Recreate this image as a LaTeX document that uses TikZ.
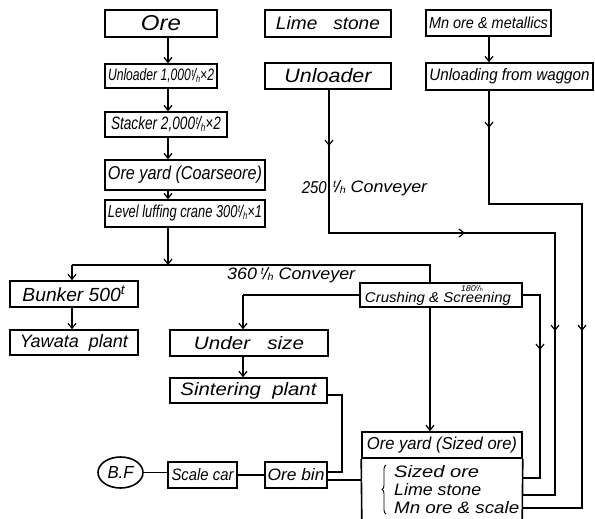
\documentclass[tikz,border=0pt]{standalone}
\usepackage{fontspec}
\usepackage{graphicx}
\setmainfont{Liberation Sans}
\usetikzlibrary{arrows.meta,shapes.geometric,calc,decorations.pathreplacing}
\newcommand{\tph}{\kern0.05em\raisebox{0.55ex}{\scalebox{0.6}{t}}\kern-0.05em/\kern-0.02em\raisebox{-0.15ex}{\scalebox{0.6}{h}}}
\newcommand{\rw}[3]{\resizebox{#1pt}{#2pt}{\itshape #3}}
\begin{document}
\begin{tikzpicture}[x=1pt,y=-1pt,
  box/.style={draw, line width=1.6pt, inner sep=0pt},
  ln/.style={line width=1.2pt},
  arr/.style={ln, -{Straight Barb[length=5pt,width=8pt,line width=1.2pt]}},
]
\useasboundingbox (0,0) rectangle (595,519);
% column coordinates
\coordinate (oc) at (168,0);
\coordinate (lc) at (329,0);
\coordinate (mc) at (489,0);
\coordinate (bc) at (72,0);
\coordinate (uc) at (243,0);
\coordinate (cc) at (430,0);

% top row
\node[box, minimum width=112, minimum height=27] (ore) at (161,23.5) {\rw{40}{15}{Ore}};
\node[box, minimum width=126, minimum height=27] (lime) at (328,23.5) {\rw{104}{13}{Lime\ \ \ stone}};
\node[box, minimum width=125, minimum height=26] (mn) at (488.5,23) {\rw{119}{11.5}{Mn ore \& metallics}};
% unloaders
\node[box, minimum width=112, minimum height=24] (unl1) at (161,76) {\rw{106}{12}{Unloader 1,000\tph{}×2}};
\node[box, minimum width=126, minimum height=26] (unl2) at (328,76) {\rw{87}{14}{Unloader}};
\node[box, minimum width=167, minimum height=27] (unlw) at (509.5,76.5) {\rw{160}{12}{Unloading from waggon}};
% ore column
\node[box, minimum width=122, minimum height=25] (stack) at (166,124.5) {\rw{110}{13}{Stacker 2,000\tph{}×2}};
\node[box, minimum width=160, minimum height=30] (oyc) at (185,175) {\rw{154}{13.5}{Ore yard (Coarseore)}};
\node[box, minimum width=160, minimum height=27] (llc) at (185,213.5) {\rw{154}{12.5}{Level luffing crane 300\tph{}×1}};
% middle
\node[box, minimum width=128, minimum height=26] (bunk) at (74,294) {\rw{103}{15.5}{Bunker 500\textsuperscript{t}}};
\node[box, minimum width=128, minimum height=25] (yaw) at (74,342.5) {\rw{108}{13}{Yawata\ \ plant}};
\node[box, minimum width=162, minimum height=24] (crush) at (441,295) {\rw{152}{17}{Crushing \& Sc\rlap{\raisebox{1.45ex}{\scalebox{0.6}{180\tph}}}reening\hspace{0.4em}}};
\node[box, minimum width=158, minimum height=26] (under) at (249,343) {\rw{110}{13}{Under\ \ \ size}\hspace{8pt}};
\node[box, minimum width=157, minimum height=25] (sint) at (248.5,390.5) {\rw{136}{13}{Sintering\ \ plant}};
% bottom row
\node[draw, ellipse, line width=1.6pt, inner sep=0pt, minimum width=45, minimum height=31] (bf) at (120.5,472.5) {\rw{26}{12}{B.F}};
\node[box, minimum width=69, minimum height=26] (scar) at (202.5,475) {\rw{62}{12}{Scale car}};
\node[box, minimum width=62, minimum height=26] (obin) at (296,475) {\rw{57}{12}{Ore bin}};
\node[box, minimum width=160, minimum height=26] (oys) at (442,445) {\rw{150}{12.5}{Ore yard (Sized ore)}};
\node[inner sep=0pt, minimum width=160, minimum height=61] (oyb) at (442,488.5) {};
\draw[line width=1.6pt] (oys.south west) -- (oyb.south west);
\draw[line width=1.6pt] (oys.south east) -- (oyb.south east);
\node[inner sep=0pt, anchor=west] (oyt1) at (394,472) {\rw{85}{12}{Sized ore}};
\node[inner sep=0pt, anchor=west] (oyt2) at (394,490) {\rw{87}{12}{Lime stone}};
\node[inner sep=0pt, anchor=west] (oyt3) at (394,507.5) {\rw{125}{12}{Mn ore \& scale}};
\draw[line width=0.9pt, decorate, decoration={brace, amplitude=4pt}] (386,514) -- (386,465);

% ore column arrows
\draw[arr] (ore.south -| oc) -- (unl1.north -| oc);
\draw[arr] (unl1.south -| oc) -- (stack.north -| oc);
\draw[arr] (stack.south -| oc) -- (oyc.north -| oc);
\draw[arr] (oyc.south -| oc) -- (llc.north -| oc);
\coordinate (j360) at (168,265);
\draw[arr] (llc.south -| oc) -- (j360);
\coordinate (jl) at (72,265);
\coordinate (jr) at (430,265);
\draw[ln] (jl) -- (jr) -- (crush.north -| cc);
\draw[arr] (jl) -- (bunk.north -| bc);
\draw[arr] (bunk.south -| bc) -- (yaw.north -| bc);
\node[inner sep=0pt, anchor=west] (c360) at (227,275) {\rw{128}{12}{360\,\tph{} Conveyer}};

% crushing outputs
\coordinate (cu) at (243,295);
\draw[ln] (crush.west) -- (cu);
\draw[arr] (cu) -- (under.north -| uc);
\draw[arr] (under.south -| uc) -- (sint.north -| uc);
\draw[arr] (crush.south -| cc) -- (oys.north -| cc);
\coordinate (cr1) at (540,295);
\coordinate (cr2) at (540,478);
\coordinate (cra) at (540,350);
\draw[ln] (crush.east) -- (cr1) -- (cr2) -- (oyb.east |- cr2);
\draw[arr] (cr1) -- (cra);

% sinter to ore bin
\coordinate (s1) at (342,395);
\coordinate (s2) at (342,472);
\draw[ln] (sint.east |- s1) -- (s1) -- (s2) -- (obin.east |- s2);
\coordinate (ob) at (330,480);
\draw[ln] (obin.east |- ob) -- (oyb.west |- ob);
\draw[ln] (bf.east) -- (bf.east -| scar.west);
\draw[ln] (scar.east) -- (obin.west);

% lime stone line
\coordinate (l1) at (329,233);
\coordinate (l2) at (555,233);
\coordinate (l3) at (555,495);
\coordinate (la1) at (329,146);
\coordinate (la2) at (465,233);
\coordinate (la3) at (555,331);
\draw[ln] (unl2.south -| lc) -- (l1) -- (l2) -- (l3) -- (oyb.east |- l3);
\draw[arr] (unl2.south -| lc) -- (la1);
\draw[arr] (l1) -- (la2);
\draw[arr] (l2) -- (la3);
\node[inner sep=0pt, anchor=east] (n250) at (327,188) {\rw{25}{12}{250}};
\node[inner sep=0pt, anchor=west] (c250) at (332,188) {\rw{95}{12}{\tph{} Conveyer}};

% Mn line
\coordinate (m1) at (489,204);
\coordinate (m2) at (582,204);
\coordinate (m3) at (582,508);
\coordinate (ma1) at (489,128);
\coordinate (ma3) at (582,331);
\draw[arr] (mn.south -| mc) -- (unlw.north -| mc);
\draw[ln] (unlw.south -| mc) -- (m1) -- (m2) -- (m3) -- (oyb.east |- m3);
\draw[arr] (unlw.south -| mc) -- (ma1);
\draw[arr] (m2) -- (ma3);
\end{tikzpicture}
\end{document}
